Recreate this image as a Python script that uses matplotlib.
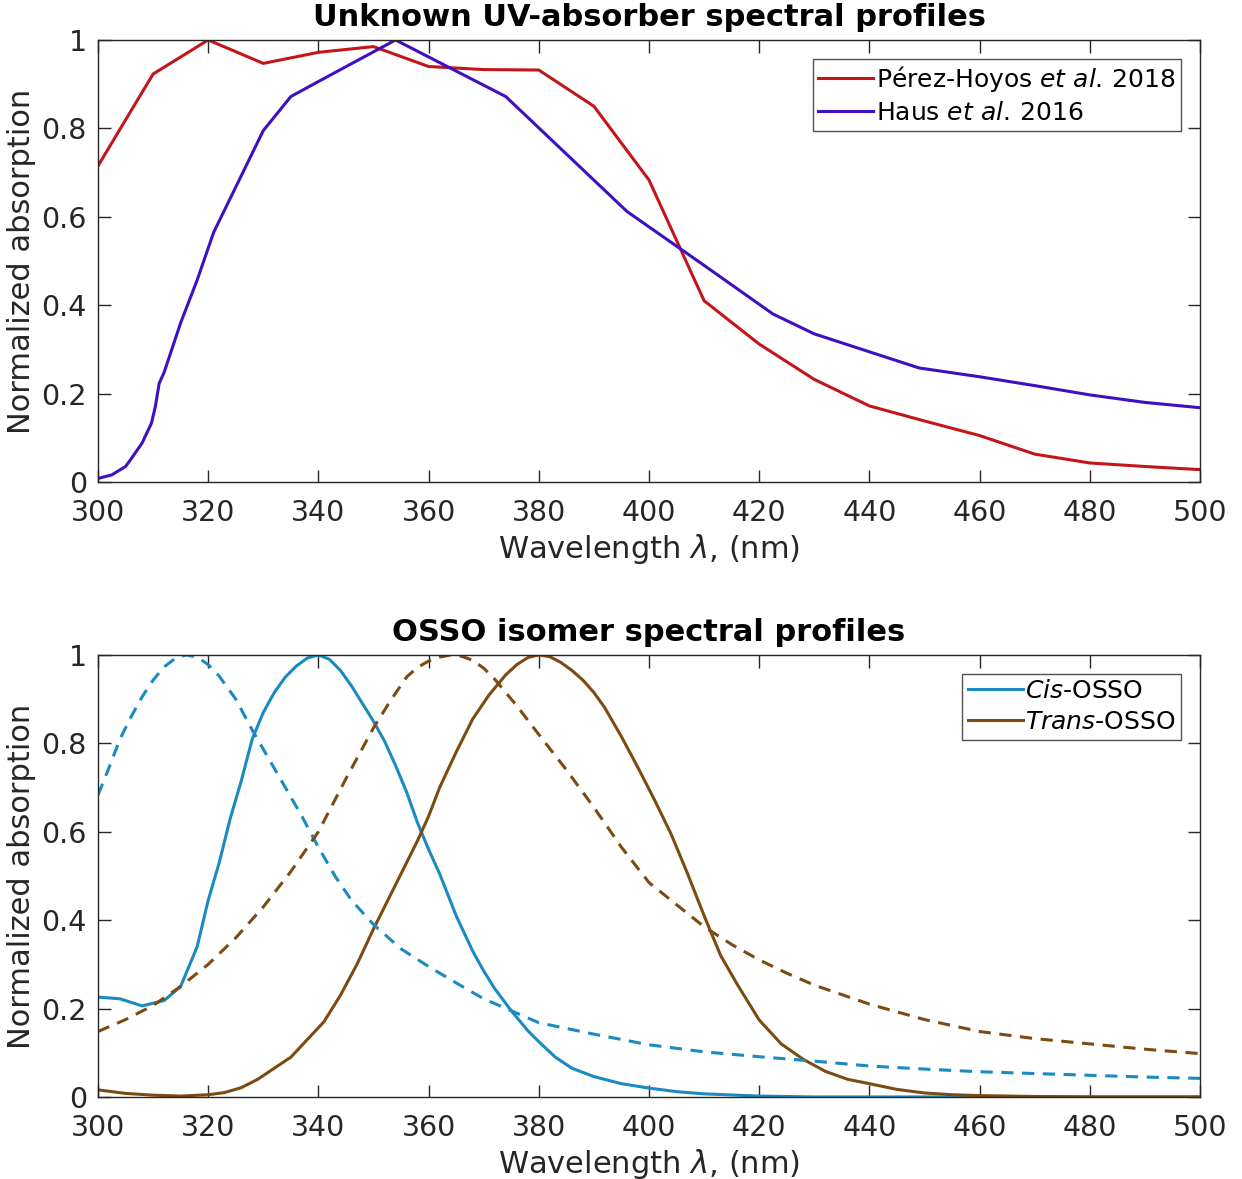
import matplotlib
matplotlib.use("Agg")
import matplotlib.pyplot as plt
import numpy as np

# Unknown UV-absorber profiles (normalized)
perez_wl = [300, 310, 320, 330, 340, 350, 360, 370, 380, 390, 400, 410,
            420, 430, 440, 450, 460, 470, 480, 490, 500]
perez_abs = [0.715, 0.923, 1.0, 0.947, 0.972, 0.985, 0.940, 0.933, 0.932,
             0.850, 0.683, 0.410, 0.312, 0.232, 0.172, 0.138, 0.105, 0.063,
             0.043, 0.035, 0.028]

haus_wl = [300, 302.5, 305, 306, 308, 309.7, 310.4, 311.1, 312, 315, 318,
           321, 330, 335, 340, 354, 374, 396, 410, 422.5, 430, 449, 460,
           470, 480, 490, 500]
haus_abs = [0.008, 0.016, 0.035, 0.052, 0.088, 0.133, 0.170, 0.223, 0.248,
            0.360, 0.457, 0.565, 0.795, 0.872, 0.906, 1.0, 0.872, 0.612,
            0.490, 0.380, 0.335, 0.258, 0.238, 0.218, 0.197, 0.180, 0.168]

# OSSO isomers, solid and dashed variants
cis_wl = [300, 304, 308, 312, 315, 318, 320, 322, 324, 326, 328, 330, 332,
          334, 336, 338, 340, 342, 344, 346, 348, 350, 352, 354, 356, 358,
          360, 362, 365, 368, 370, 372, 375, 378, 380, 383, 386, 390, 395,
          400, 405, 410, 420, 430, 500]
cis_abs = [0.226, 0.222, 0.206, 0.218, 0.250, 0.340, 0.445, 0.530, 0.630,
           0.715, 0.810, 0.870, 0.915, 0.950, 0.975, 0.993, 1.0, 0.990,
           0.965, 0.930, 0.890, 0.850, 0.805, 0.750, 0.690, 0.620, 0.560,
           0.505, 0.410, 0.330, 0.285, 0.245, 0.195, 0.150, 0.125, 0.090,
           0.065, 0.046, 0.030, 0.020, 0.012, 0.007, 0.002, 0.0, 0.0]

cis_d_wl = [300, 302, 304, 306, 308, 310, 312, 314, 316, 318, 320, 322, 325,
            328, 331, 334, 337, 340, 343, 346, 350, 355, 360, 365, 370, 375,
            380, 385, 390, 395, 400, 410, 420, 430, 440, 450, 460, 470, 480,
            490, 500]
cis_d_abs = [0.683, 0.745, 0.810, 0.860, 0.905, 0.943, 0.973, 0.992, 1.0,
             0.995, 0.978, 0.952, 0.900, 0.830, 0.765, 0.700, 0.635, 0.565,
             0.500, 0.445, 0.390, 0.335, 0.295, 0.258, 0.222, 0.195, 0.168,
             0.155, 0.142, 0.130, 0.118, 0.102, 0.091, 0.081, 0.070, 0.063,
             0.057, 0.053, 0.049, 0.045, 0.042]

trans_wl = [300, 305, 310, 315, 320, 323, 326, 329, 332, 335, 338, 341, 344,
            347, 350, 352, 354, 356, 358, 360, 362, 365, 368, 371, 374, 376,
            378, 380, 382, 384, 386, 388, 390, 392, 395, 398, 401, 404, 407,
            410, 413, 416, 420, 424, 428, 432, 436, 440, 445, 450, 455, 460,
            470, 480, 500]
trans_abs = [0.016, 0.008, 0.004, 0.002, 0.005, 0.010, 0.021, 0.040, 0.065,
             0.090, 0.130, 0.170, 0.230, 0.300, 0.380, 0.430, 0.480, 0.530,
             0.580, 0.635, 0.700, 0.780, 0.855, 0.910, 0.955, 0.978, 0.994,
             1.0, 0.996, 0.983, 0.965, 0.943, 0.915, 0.880, 0.815, 0.745,
             0.672, 0.595, 0.505, 0.410, 0.320, 0.255, 0.174, 0.120, 0.085,
             0.058, 0.040, 0.030, 0.017, 0.009, 0.005, 0.003, 0.001, 0.0,
             0.0]

trans_d_wl = [300, 305, 310, 315, 320, 325, 330, 335, 340, 345, 350, 353,
              356, 358, 360, 362, 364, 366, 368, 370, 372, 374, 376, 380,
              385, 390, 395, 400, 405, 410, 415, 420, 425, 430, 440, 450,
              460, 470, 480, 490, 500]
trans_d_abs = [0.148, 0.175, 0.207, 0.250, 0.300, 0.360, 0.430, 0.510,
               0.600, 0.720, 0.835, 0.895, 0.950, 0.972, 0.986, 0.995, 1.0,
               0.997, 0.988, 0.970, 0.945, 0.915, 0.885, 0.820, 0.740, 0.655,
               0.565, 0.485, 0.435, 0.385, 0.345, 0.310, 0.280, 0.253, 0.210,
               0.175, 0.148, 0.132, 0.120, 0.108, 0.098]

xticks = np.arange(300, 501, 20)
yticks = [0, 0.2, 0.4, 0.6, 0.8, 1]
ytick_labels = ["0", "0.2", "0.4", "0.6", "0.8", "1"]

red = "#c41518"
purple = "#3e10c2"
cis_col = "#1a8bc2"
trans_col = "#7d4a12"
ink = "#262626"

plt.rcParams["font.family"] = "DejaVu Sans"
plt.rcParams["mathtext.fontset"] = "dejavusans"

fig = plt.figure(figsize=(12.42, 11.79), dpi=100)
ax1 = fig.add_axes([0.0789, 0.5912, 0.8873, 0.3749])
ax2 = fig.add_axes([0.0789, 0.0696, 0.8873, 0.3749])

lw = 2.2
dash = (4.0, 2.8)
ax1.plot(perez_wl, perez_abs, color=red, lw=lw,
         label=r"Pérez-Hoyos $\it{et\ al.}\,\mathrm{2018}$")
ax1.plot(haus_wl, haus_abs, color=purple, lw=lw,
         label=r"Haus $\it{et\ al.}\,\mathrm{2016}$")
ax1.set_title("Unknown UV-absorber spectral profiles", fontsize=22,
              fontweight="bold", pad=10)

ax2.plot(cis_wl, cis_abs, color=cis_col, lw=lw, label=r"$\it{Cis}$-OSSO")
ax2.plot(trans_wl, trans_abs, color=trans_col, lw=lw,
         label=r"$\it{Trans}$-OSSO")
ax2.plot(cis_d_wl, cis_d_abs, color=cis_col, lw=lw, dashes=dash)
ax2.plot(trans_d_wl, trans_d_abs, color=trans_col, lw=lw, dashes=dash)
ax2.set_title("OSSO isomer spectral profiles", fontsize=22,
              fontweight="bold", pad=10)

for ax in (ax1, ax2):
    ax.set_xlim(300, 500)
    ax.set_ylim(0, 1)
    ax.set_xticks(xticks)
    ax.set_yticks(yticks)
    ax.set_yticklabels(ytick_labels)
    ax.tick_params(direction="in", top=True, right=True, length=9,
                   width=1.0, labelsize=20.5, colors=ink)
    ax.tick_params(axis="x", pad=12)
    ax.tick_params(axis="y", pad=8)
    for s in ax.spines.values():
        s.set_color(ink)
        s.set_linewidth(1.0)
    ax.set_xlabel(r"Wavelength $\lambda$, (nm)", fontsize=22, color=ink,
                  labelpad=4)
    ax.set_ylabel("Normalized absorption", fontsize=22, color=ink,
                  labelpad=4)
    leg = ax.legend(loc="upper right", fontsize=18, frameon=True,
                    fancybox=False, edgecolor=ink, handlelength=2.2,
                    handletextpad=0.1, borderpad=0.22, labelspacing=0.28,
                    borderaxespad=0.75)
    leg.get_frame().set_linewidth(1.0)

fig.savefig("out.png", dpi=100, facecolor="white")
